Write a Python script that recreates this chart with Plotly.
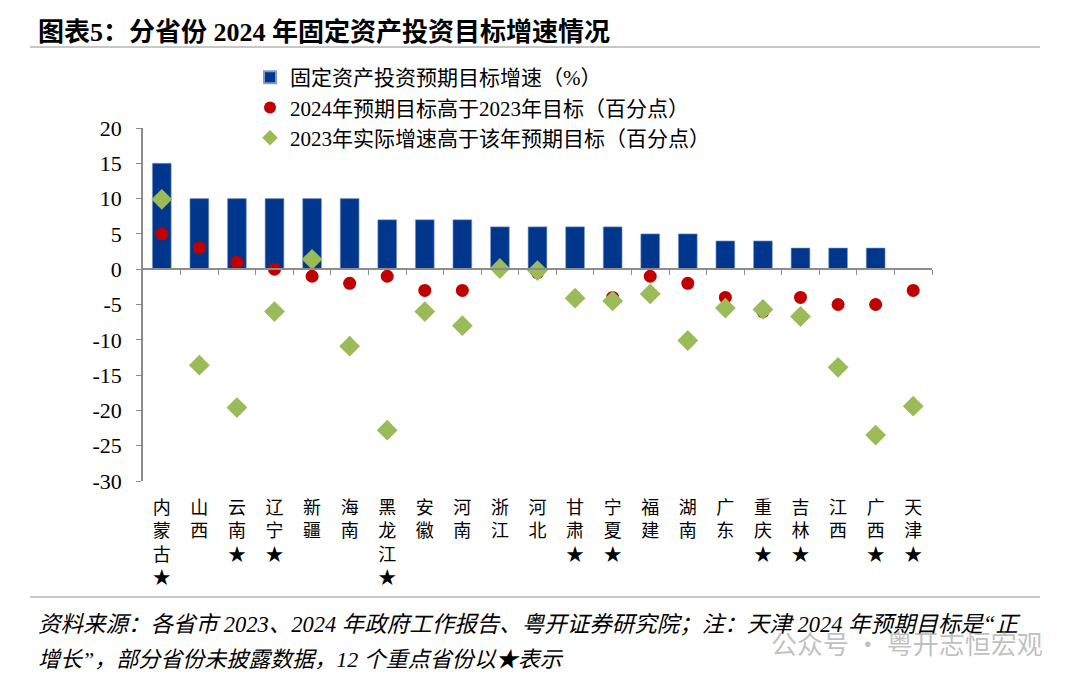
import plotly.graph_objects as go

provinces = ["内蒙古", "山西", "云南", "辽宁", "新疆", "海南", "黑龙江", "安徽", "河南", "浙江",
             "河北", "甘肃", "宁夏", "福建", "湖南", "广东", "重庆", "吉林", "江西", "广西", "天津"]
key_province = [True, False, True, True, False, False, True, False, False, False,
                False, True, True, False, False, False, True, True, False, True, True]
target_2024 = [15, 10, 10, 10, 10, 10, 7, 7, 7, 6, 6, 6, 6, 5, 5, 4, 4, 3, 3, 3, None]
target_diff = [5, 3, 1, 0, -1, -2, -1, -3, -3, 0, -0.5, -4, -4, -1, -2, -4, -6, -4, -5, -5, -3]
actual_minus_target_2023 = [9.9, -13.6, -19.6, -6, 1.4, -10.9, -22.8, -6, -8, 0.1, -0.2, -4.1, -4.5,
                            -3.5, -10.1, -5.5, -5.7, -6.7, -13.9, -23.5, -19.4]
y_ticks = [20, 15, 10, 5, 0, -5, -10, -15, -20, -25, -30]
y_tick_text = [str(v) for v in y_ticks]

labels = ["<br>".join(list(p) + (["★"] if k else [])) for p, k in zip(provinces, key_province)]

FONT = "Liberation Serif, Times New Roman, Noto Sans CJK SC, serif"

# page body has an 8px margin: plot area target in page px is x 143..932, y 128..481
OFF = 8
L, T, PW, PH = 143 - OFF, 128 - OFF, 789, 353


def px(xp):
    return (xp - 143) / PW


def py(yp):
    return (481 - yp) / PH


fig = go.Figure()
fig.add_trace(go.Bar(x=labels, y=target_2024, name="固定资产投资预期目标增速（%）",
                     marker=dict(color="#00378C", line=dict(width=0.6, color="#7f9cc8")), width=0.5))
fig.add_trace(go.Scatter(x=labels, y=target_diff, mode="markers",
                         name="2024年预期目标高于2023年目标（百分点）",
                         marker=dict(color="#C00000", size=13, symbol="circle")))
fig.add_trace(go.Scatter(x=labels, y=actual_minus_target_2023, mode="markers",
                         name="2023年实际增速高于该年预期目标（百分点）",
                         marker=dict(color="#9BBB59", size=16, symbol="diamond")))

n = len(provinces)
fig.update_layout(
    width=1080, height=682,
    margin=dict(l=L, r=1080 - L - PW, t=T, b=682 - T - PH),
    paper_bgcolor="white", plot_bgcolor="white",
    font=dict(family=FONT, size=20, color="black"),
    showlegend=True,
    legend=dict(x=px(250), y=py(57), xanchor="left", yanchor="top", bgcolor="rgba(0,0,0,0)",
                font=dict(size=21, family=FONT), tracegroupgap=0, itemsizing="constant"),
    bargap=0.5,
    xaxis=dict(type="category", categoryorder="array", categoryarray=labels,
               range=[-0.5, n - 0.5], showline=False, ticks="", showgrid=False,
               tickfont=dict(size=18, family=FONT), tickangle=0, ticklabelstandoff=14),
    xaxis2=dict(overlaying="x", anchor="free", position=0.6, range=[-0.5, n - 0.5],
                tickmode="array", tickvals=[i + 0.5 for i in range(n)],
                showticklabels=False, ticks="outside", ticklen=5, tickcolor="#8c8c8c",
                showline=True, linecolor="#8c8c8c", linewidth=1.5, showgrid=False, zeroline=False),
    yaxis=dict(range=[-30, 20], tickmode="array", tickvals=y_ticks, ticktext=y_tick_text,
               showline=True, linecolor="#8c8c8c", linewidth=1.5, ticks="outside", ticklen=5,
               tickcolor="#8c8c8c", showgrid=False, zeroline=False,
               tickfont=dict(size=22, family=FONT), ticklabelstandoff=10),
)
# invisible trace to activate xaxis2
fig.add_trace(go.Scatter(x=[0], y=[0], xaxis="x2", mode="markers",
                         marker=dict(opacity=0), showlegend=False, hoverinfo="skip"))

fig.add_annotation(text="<b>图表5：分省份 2024 年固定资产投资目标增速情况</b>",
                   xref="paper", yref="paper", x=px(36), y=py(32),
                   xanchor="left", yanchor="middle", showarrow=False,
                   font=dict(size=26, family=FONT, color="black"))
fig.add_shape(type="line", xref="paper", yref="paper",
              x0=px(30), x1=px(1040), y0=py(47), y1=py(47),
              line=dict(color="#b5b5b5", width=1.5))
fig.add_shape(type="line", xref="paper", yref="paper",
              x0=px(30), x1=px(1040), y0=py(597), y1=py(597),
              line=dict(color="#b5b5b5", width=1.5))
fig.add_annotation(text="<i>资料来源：各省市 2023、2024 年政府工作报告、粤开证券研究院；注：天津 2024 年预期目标是“正</i>",
                   xref="paper", yref="paper", x=px(36), y=py(624),
                   xanchor="left", yanchor="middle", showarrow=False,
                   font=dict(size=22.5, family=FONT, color="black"))
fig.add_annotation(text="<i>增长”，部分省份未披露数据，12 个重点省份以★表示</i>",
                   xref="paper", yref="paper", x=px(36), y=py(659),
                   xanchor="left", yanchor="middle", showarrow=False,
                   font=dict(size=22, family=FONT, color="black"))
fig.add_annotation(text="公众号 · 粤开志恒宏观",
                   xref="paper", yref="paper", x=px(1045), y=py(642),
                   xanchor="right", yanchor="middle", showarrow=False,
                   font=dict(size=26, family="Noto Sans CJK SC", color="rgba(150,150,150,0.6)"))

fig.write_html("out.html")
